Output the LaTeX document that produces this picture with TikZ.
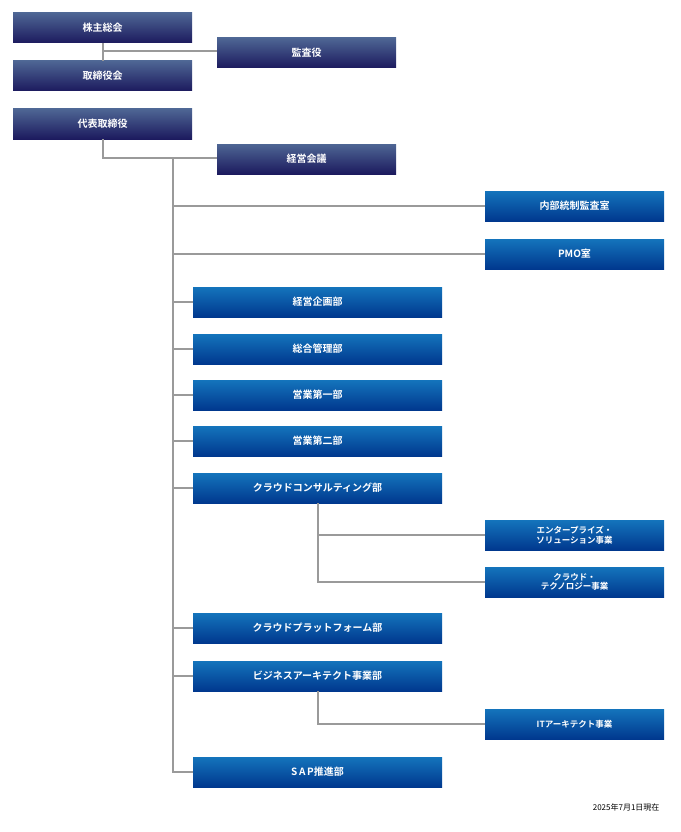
\documentclass[tikz,border=0pt]{standalone}
\usepackage{fontspec}
\setmainfont{Noto Sans CJK JP}
\newfontfamily\jpb{Noto Sans CJK JP Bold}
\definecolor{ntop}{HTML}{4E6694}
\definecolor{nbot}{HTML}{1C1A5E}
\definecolor{btop}{HTML}{1474BC}
\definecolor{bbot}{HTML}{00388E}
\definecolor{ln}{HTML}{9A9A9A}
\begin{document}
\begin{tikzpicture}[x=1pt,y=-1pt,
 navy/.style={rectangle,inner sep=0pt,top color=ntop,bottom color=nbot,text=white,font=\jpb\fontsize{10}{11}\selectfont,align=center},
 blue/.style={rectangle,inner sep=0pt,top color=btop,bottom color=bbot,text=white,font=\jpb\fontsize{10}{11}\selectfont,align=center},
 small/.style={font=\jpb\fontsize{8.5}{9.5}\selectfont},
 conn/.style={draw=ln,line width=2.6pt}]
\useasboundingbox (0,0) rectangle (680,832);
\newcommand\bx[6]{\node[#1,minimum width=#4-#3,minimum height=30] (#2) at ({(#3+#4)/2},#5) {#6};}
\bx{navy}{a}{13}{192}{28}{株主総会}
\bx{navy}{b}{217}{396}{53}{監査役}
\bx{navy}{c}{13}{192}{76}{取締役会}
\bx{navy}{d}{13}{192}{124}{代表取締役}
\bx{navy}{e}{217}{396}{159}{経営会議}
\bx{blue}{f}{485}{664}{206}{内部統制監査室}
\bx{blue}{g}{485}{664}{254}{PMO室}
\bx{blue}{h1}{193}{442}{302}{経営企画部}
\bx{blue}{h2}{193}{442}{349}{総合管理部}
\bx{blue}{h3}{193}{442}{395}{営業第一部}
\bx{blue}{h4}{193}{442}{441}{営業第二部}
\bx{blue}{h5}{193}{442}{488}{クラウドコンサルティング部}
\bx{blue,small}{i1}{485}{664}{535}{エンタープライズ・\\ソリューション事業}
\bx{blue,small}{i2}{485}{664}{582}{クラウド・\\テクノロジー事業}
\bx{blue}{h6}{193}{442}{628}{クラウドプラットフォーム部}
\bx{blue}{h7}{193}{442}{676}{ビジネスアーキテクト事業部}
\bx{blue,small}{j1}{485}{664}{724}{ITアーキテクト事業}
\bx{blue}{h8}{193}{442}{772}{S\,A\,P推進部}
\node[anchor=east,font=\fontsize{8}{9}\selectfont] (dt) at (663,807) {2025年7月1日現在};
\begin{scope}[on background layer/.try]
\end{scope}
\coordinate (p1) at (103,51);
\coordinate (p2) at (103,158);
\coordinate (p3) at (173,158);
\coordinate (p4) at (173,772);
\coordinate (q1) at (318,582);
\coordinate (q2) at (318,724);
\draw[conn] (a.south -| p1) -- (c.north -| p1);
\draw[conn] (p1) -- (b.west |- p1);
\draw[conn] (d.south -| p2) -- (p2) -- (e.west |- p2);
\draw[conn] (p3) -- (p4) -- (h8.west);
\foreach \n in {f,g}{\draw[conn] (p3 |- \n.west) -- (\n.west);}
\foreach \n in {h1,h2,h3,h4,h5,h6,h7}{\draw[conn] (p3 |- \n.west) -- (\n.west);}
\draw[conn] (h5.south -| q1) -- (q1) -- (i2.west);
\draw[conn] (q1 |- i1.west) -- (i1.west);
\draw[conn] (h7.south -| q2) -- (q2) -- (j1.west);
\end{tikzpicture}
\end{document}
